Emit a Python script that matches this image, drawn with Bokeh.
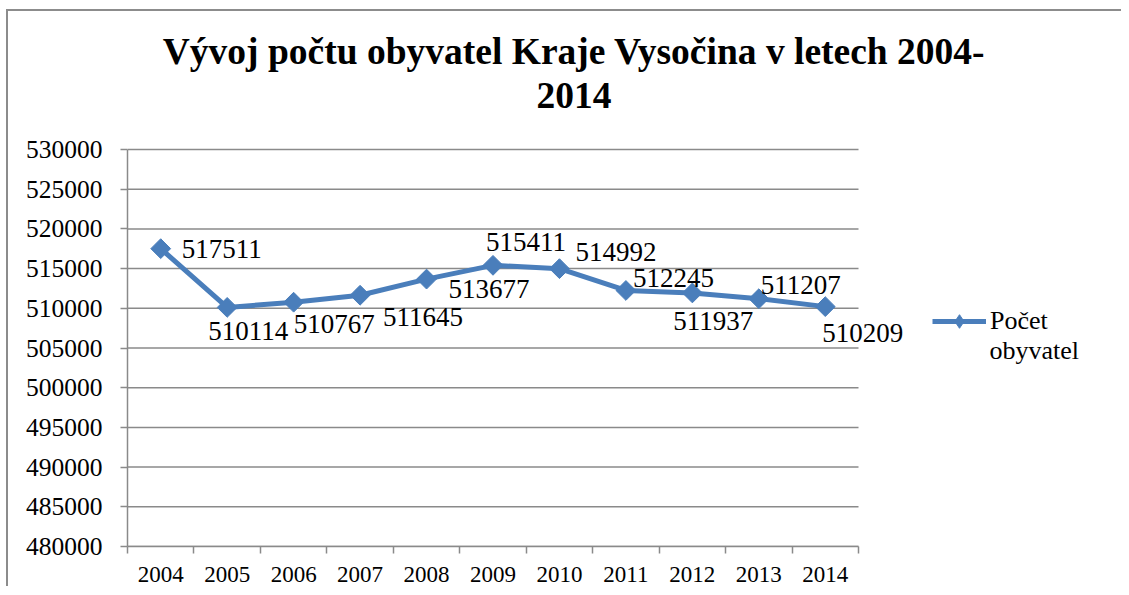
import math
from bokeh.plotting import figure
from bokeh.models import (Range1d, FixedTicker, ColumnDataSource, LabelSet, Label,
                          Legend, LegendItem, BasicTickFormatter)
from bokeh.embed import file_html
from bokeh.resources import INLINE

# ---- data ----
years = ["2004", "2005", "2006", "2007", "2008", "2009", "2010", "2011", "2012", "2013", "2014"]
population = [517511, 510114, 510767, 511645, 513677, 515411, 514992, 512245, 511937, 511207, 510209]
y_ticks = [480000, 485000, 490000, 495000, 500000, 505000, 510000, 515000, 520000, 525000, 530000]
title_line1 = "Vývoj počtu obyvatel Kraje Vysočina v letech 2004-"
title_line2 = "2014"
series_line1 = "Počet"
series_line2 = "obyvatel"

# ---- label placement (pixels; dy positive = downwards) ----
label_dx = [21, -19, 0, 23, 22, -7, 16, 7, -19, 2, -3]
label_dy = [0, 24, 22, 22, 10, -23, -17, -12, 28, -14, 26]

FONT = "Liberation Serif"
BLUE = "#4a7ebb"
GRAY = "#8a8a8a"

# ---- layout (page pixels) ----
ORIGIN_X, ORIGIN_Y = 8, 11          # canvas top-left on the page
W, H = 1115, 577
PLOT_L, PLOT_R, PLOT_T, PLOT_B = 127, 858, 149, 546   # area of the axes box
n = len(years)
x_px = (PLOT_R - PLOT_L) / n
y_px = (PLOT_B - PLOT_T) / (y_ticks[-1] - y_ticks[0])
x_end = -0.5 + (ORIGIN_X + W - PLOT_L) / x_px
y_end = y_ticks[0] + (PLOT_B - ORIGIN_Y) / y_px

idx = list(range(n))
src = ColumnDataSource(dict(
    x=idx, y=population, txt=[str(v) for v in population],
    dx=label_dx, dy=[-d for d in label_dy],
))

p = figure(width=W, height=H, output_backend="svg", toolbar_location=None,
           x_range=Range1d(-0.5, x_end), y_range=Range1d(y_ticks[0], y_end),
           min_border_left=PLOT_L - ORIGIN_X, min_border_right=0, min_border_top=0,
           min_border_bottom=ORIGIN_Y + H - PLOT_B)
p.margin = (9, 0, 0, 6)
p.styles = {"border-top": "2px solid #8c8c8c", "border-left": "2px solid #8c8c8c"}
p.outline_line_color = None
p.background_fill_color = "white"
p.border_fill_color = "white"

# y axis
p.yaxis.ticker = FixedTicker(ticks=y_ticks)
p.yaxis.bounds = (y_ticks[0], y_ticks[-1])
p.yaxis.formatter = BasicTickFormatter(use_scientific=False)
p.yaxis.major_label_text_font = FONT
p.yaxis.major_label_text_font_size = "25.5px"
p.yaxis.major_label_text_color = "black"
p.yaxis.major_tick_out = 7
p.yaxis.major_tick_in = 0
p.yaxis.minor_tick_line_color = None
p.yaxis.major_label_standoff = 18
p.yaxis.axis_line_color = GRAY
p.yaxis.axis_line_width = 1.5
p.yaxis.major_tick_line_color = GRAY
p.yaxis.major_tick_line_width = 1.5

# x axis: labels at category centres, ticks at category boundaries
p.xaxis.ticker = FixedTicker(ticks=idx, minor_ticks=[i - 0.5 for i in range(n + 1)])
p.xaxis.bounds = (-0.5, n - 0.5)
p.xaxis.major_label_overrides = {i: years[i] for i in idx}
p.xaxis.major_label_text_font = FONT
p.xaxis.major_label_text_font_size = "23px"
p.xaxis.major_label_text_color = "black"
p.xaxis.major_tick_out = 0
p.xaxis.major_tick_in = 0
p.xaxis.minor_tick_out = 7
p.xaxis.minor_tick_in = 0
p.xaxis.minor_tick_line_color = GRAY
p.xaxis.minor_tick_line_width = 1.5
p.xaxis.major_label_standoff = 13
p.xaxis.axis_line_color = GRAY
p.xaxis.axis_line_width = 1.5

# horizontal gridlines limited to the axes box
p.xgrid.grid_line_color = None
p.ygrid.grid_line_color = None
p.segment(x0=[-0.5] * len(y_ticks), x1=[n - 0.5] * len(y_ticks), y0=y_ticks, y1=y_ticks,
          line_color=GRAY, line_width=1.5)

# series
lr = p.line("x", "y", source=src, line_color=BLUE, line_width=5, line_join="round")
# diamonds hidden under the main markers give the legend its diamond symbol
proxy = p.scatter("x", "y", source=src, marker="diamond", size=11,
                  fill_color=BLUE, line_color=BLUE)
sr = p.scatter("x", "y", source=src, marker="square", size=14, angle=math.pi / 4,
               fill_color=BLUE, line_color=BLUE)

labels = LabelSet(x="x", y="y", text="txt", source=src, x_offset="dx", y_offset="dy",
                  text_font=FONT, text_font_size="27px", text_color="black",
                  text_align="left", text_baseline="middle")
p.add_layout(labels)

# title
for txt, off in ((title_line1, 98), (title_line2, 54)):
    p.add_layout(Label(x=-0.5, y=y_ticks[-1], x_offset=446.5, y_offset=off, text=txt,
                       text_font=FONT, text_font_size="37.5px", text_font_style="bold",
                       text_color="black", text_align="center", text_baseline="alphabetic"))

# legend
legend = Legend(items=[LegendItem(label=series_line1, renderers=[lr, proxy])],
                location=(805, 208), glyph_width=54, glyph_height=34, label_height=34,
                label_standoff=4, padding=0, margin=0, spacing=0, border_line_color=None,
                background_fill_alpha=0, label_text_font=FONT, label_text_font_size="26px",
                label_text_color="black")
p.add_layout(legend, "center")
p.add_layout(Label(x=n - 0.5, y=y_ticks[-1], x_offset=131, y_offset=-201,
                   text=series_line2, text_font=FONT, text_font_size="26px",
                   text_color="black", text_align="left", text_baseline="alphabetic"))

open("out.html", "w").write(file_html(p, INLINE))
